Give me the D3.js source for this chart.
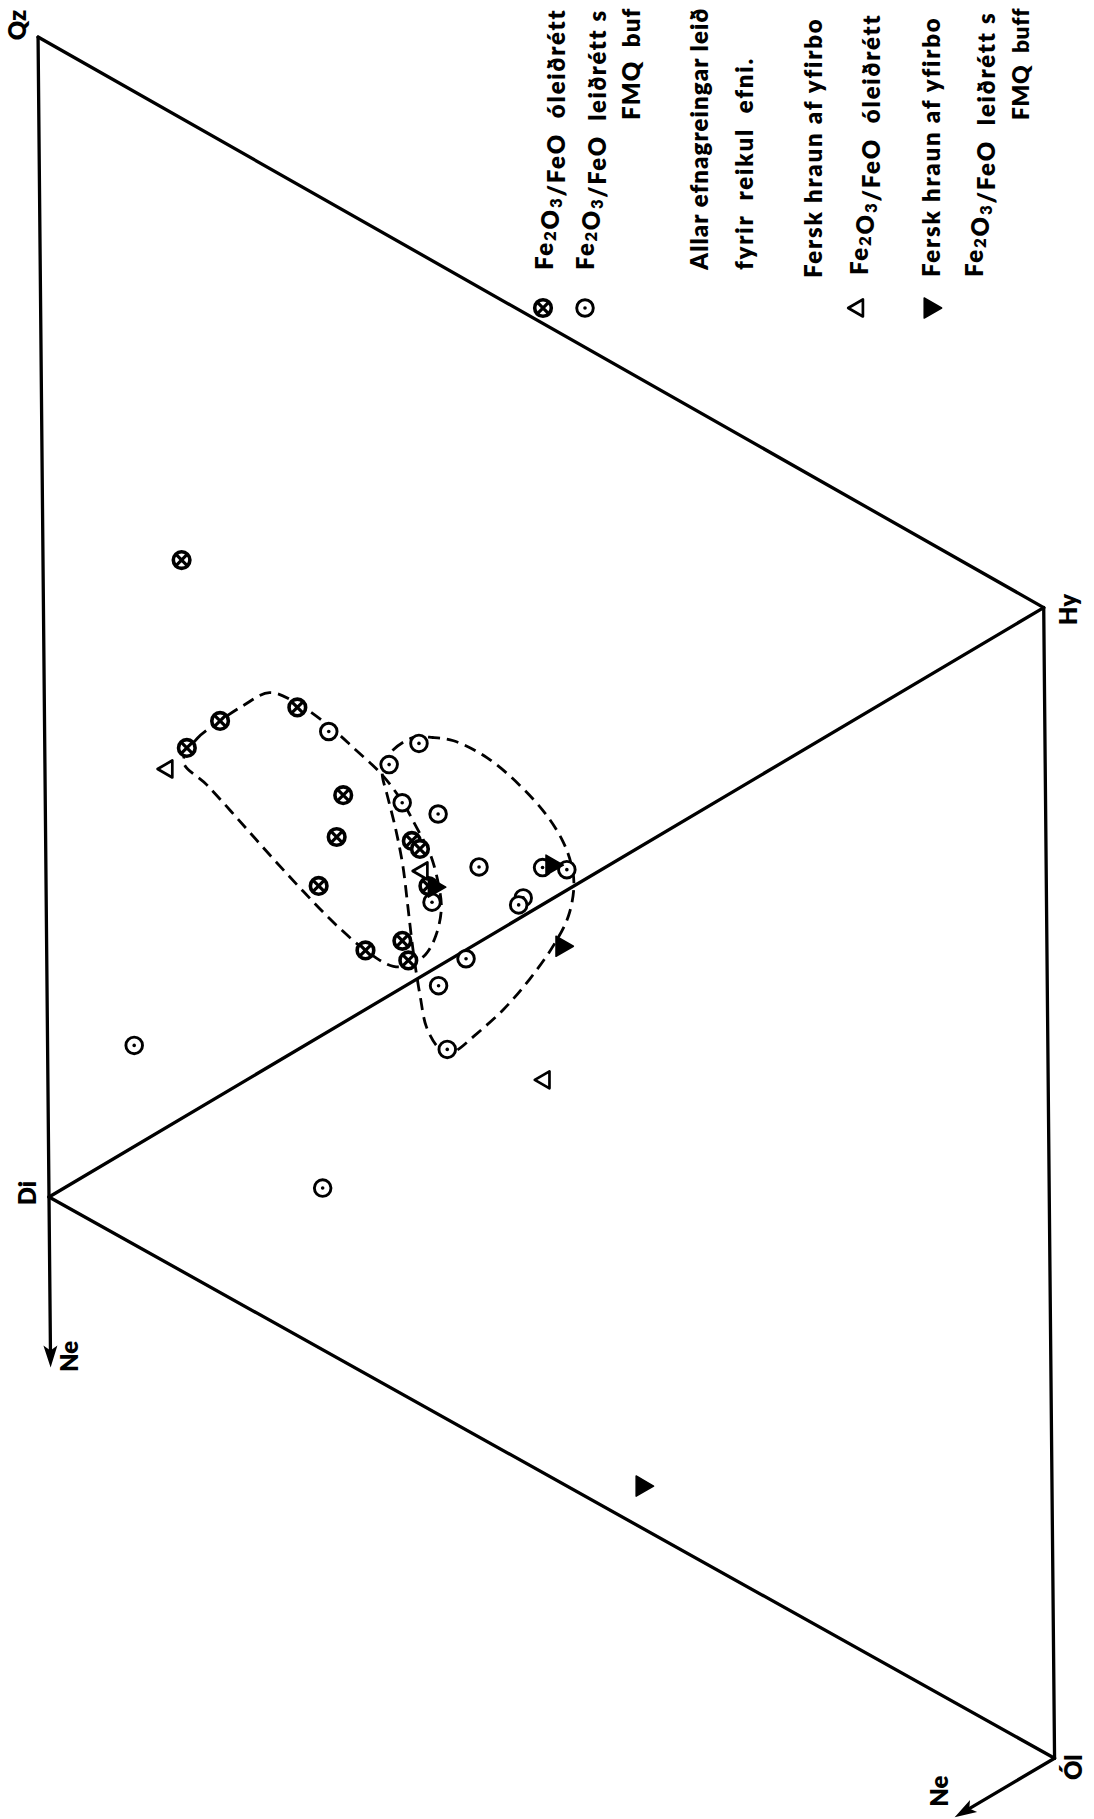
<!DOCTYPE html>
<html><head><meta charset="utf-8">
<script src="https://cdn.jsdelivr.net/npm/d3@7"></script>
<style>
body{margin:0;background:#fff}
svg{display:block;background:#fff}
text{font-family:Lato,"Open Sans",sans-serif;font-weight:800;fill:#000}
</style>
</head><body>
<svg id="chart" width="1094" height="1819"></svg>
<script>
// ---- DATA (diagram units: Di=(0,0), Qz=(0,100), Hy=(86.6,50), Ól=(86.6,-49)) ----
const apexNames = ["Qz", "Di", "Hy", "Ól"];
const apexPos = [[0, 100], [0, 0], [86.6, 50], [86.6, -49.2]];
const edgeList = [[0, 1], [0, 2], [1, 2], [1, 3], [2, 3]];
const neArrows = [[[0, 0], [0, -14.7]], [[86.6, -49.2], [77.9, -54.2]]];
const neLabels = ["Ne", "Ne"];

// Fe2O3/FeO óleiðrétt (crossed circles)
const uncorrected = [[12.3,38.6],[15.2,40.9],[21.9,42.0],[25.8,34.4],[25.2,30.8],[23.6,26.6],
  [27.6,21.0],[30.8,21.8],[31.3,20.1],[31.7,30.4],[32.4,29.7],[33.1,26.5],[12.0,54.8]];
// Fe2O3/FeO leiðrétt (dotted circles)
const corrected = [[24.6,39.9],[29.8,37.0],[32.4,38.8],[30.9,33.7],[34.0,32.7],[37.5,28.1],
  [43.0,28.0],[45.1,27.8],[41.3,25.4],[40.9,24.8],[33.4,25.1],[36.3,20.2],[33.9,17.9],
  [34.6,12.4],[7.5,13.0],[23.7,0.55]];
// Fersk hraun, óleiðrétt (open triangles)
const freshUncorrected = [[10.6,36.8],[32.6,27.8],[43.0,9.7]];
// Fersk hraun, leiðrétt (filled triangles)
const freshCorrected = [[43.8,28.2],[44.6,21.2],[33.6,26.4],[51.1,-25.4]];

// dashed field outlines
const fieldA = [[12.0,37.4],[13.2,39.4],[14.9,40.7],[17.2,42.2],[19.5,43.3],[21.8,42.4],[24.6,40.4],
  [26.7,38.5],[29.2,36.1],[30.9,33.8],[32.1,31.6],[33.3,29.2],[34.0,26.5],[34.2,24.5],[33.7,22.2],
  [32.8,20.6],[31.4,19.7],[30.0,19.6],[28.0,20.7],[25.1,23.2],[22.3,26.1],[19.4,29.3],[16.6,32.5],[14.0,35.4]];
const fieldB = [[29.3,37.0],[30.2,38.3],[31.9,39.3],[33.6,39.3],[35.4,39.0],[38.3,37.5],[41.1,35.1],
  [43.4,32.5],[44.8,30.2],[45.5,28.2],[45.7,26.4],[45.2,23.8],[43.9,21.3],[41.8,18.4],[39.5,15.8],
  [36.9,13.5],[35.4,12.3],[34.5,12.0],[33.7,12.7],[32.8,14.4],[32.3,17.0],[31.9,19.6],[31.6,22.0],
  [31.3,24.8],[30.9,28.3],[30.3,31.5],[29.6,34.4],[29.2,36.1]];

// legend lines (as far as they are visible on the page)
const legendLines = [
  "Fe_2O_3/FeO  óleiðrétt",
  "Fe_2O_3/FeO  leiðrétt s",
  "FMQ  buf",
  "Allar efnagreingar leið",
  "fyrir  reikul  efni.",
  "Fersk hraun af yfirbo",
  "Fe_2O_3/FeO  óleiðrétt",
  "Fersk hraun af yfirbo",
  "Fe_2O_3/FeO  leiðrétt s",
  "FMQ  buff"
];
const legendSymbols = ["cross", "dot", null, null, null, null, "open", "filled", null, null];

// ---- LAYOUT ----
const svg = d3.select("#chart");
const theta = -0.54 * Math.PI / 180;
const origin = [49, 1197];
const sx = d3.scaleLinear().domain([0, 100]).range([0, 1155]);
const sy = d3.scaleLinear().domain([0, 100]).range([0, -1160]);
function proj(p) {
  const a = sx(p[0]), b = sy(p[1]);
  return [origin[0] + a * Math.cos(theta) - b * Math.sin(theta),
          origin[1] + a * Math.sin(theta) + b * Math.cos(theta)];
}

// frame edges
const gEdges = svg.append("g").attr("stroke", "#000").attr("stroke-width", 3.3)
  .attr("stroke-linecap", "round").attr("fill", "none");
edgeList.forEach(e => {
  const p = proj(apexPos[e[0]]), q = proj(apexPos[e[1]]);
  gEdges.append("line").attr("x1", p[0]).attr("y1", p[1]).attr("x2", q[0]).attr("y2", q[1]);
});

// Ne arrows
neArrows.forEach((ar, i) => {
  const p = proj(ar[0]), q = proj(ar[1]);
  const len = Math.hypot(q[0] - p[0], q[1] - p[1]);
  const ux = (q[0] - p[0]) / len, uy = (q[1] - p[1]) / len;
  const L = 22, W = 7;
  const bx = q[0] - ux * L, by = q[1] - uy * L;
  gEdges.append("line").attr("x1", p[0]).attr("y1", p[1]).attr("x2", bx + ux * 4).attr("y2", by + uy * 4);
  svg.append("path")
    .attr("d", `M${q[0]},${q[1]}L${bx - uy * W},${by + ux * W}L${bx + ux * 5},${by + uy * 5}L${bx + uy * W},${by - ux * W}Z`)
    .attr("fill", "#000");
});

// dashed outlines
const lineGen = d3.line().x(d => proj(d)[0]).y(d => proj(d)[1]).curve(d3.curveCatmullRomClosed.alpha(0.5));
[fieldA, fieldB].forEach(f => {
  svg.append("path").attr("d", lineGen(f)).attr("fill", "none").attr("stroke", "#000")
    .attr("stroke-width", 2.8).attr("stroke-dasharray", "12,7");
});

// marker drawing
function drawSymbol(g, type, x, y) {
  if (type === "dot") {
    g.append("circle").attr("cx", x).attr("cy", y).attr("r", 8.3).attr("fill", "#fff")
      .attr("stroke", "#000").attr("stroke-width", 2.9);
    g.append("circle").attr("cx", x).attr("cy", y).attr("r", 1.8).attr("fill", "#000");
  } else if (type === "cross") {
    g.append("circle").attr("cx", x).attr("cy", y).attr("r", 8.3).attr("fill", "#fff")
      .attr("stroke", "#000").attr("stroke-width", 3.6);
    const k = 5.8;
    g.append("path").attr("d", `M${x - k},${y - k}L${x + k},${y + k}M${x + k},${y - k}L${x - k},${y + k}`)
      .attr("stroke", "#000").attr("stroke-width", 3.2);
  } else if (type === "open") {
    g.append("path").attr("d", d3.symbol(d3.symbolTriangle, 125)())
      .attr("transform", `translate(${x},${y}) rotate(-90)`)
      .attr("fill", "#fff").attr("stroke", "#000").attr("stroke-width", 2.7).attr("stroke-linejoin", "round");
  } else if (type === "filled") {
    g.append("path").attr("d", d3.symbol(d3.symbolTriangle, 175)())
      .attr("transform", `translate(${x},${y}) rotate(90)`)
      .attr("fill", "#000").attr("stroke", "#000").attr("stroke-width", 1.5).attr("stroke-linejoin", "round");
  }
}

const gPts = svg.append("g");
[[uncorrected, "cross"], [corrected, "dot"], [freshUncorrected, "open"], [freshCorrected, "filled"]]
  .forEach(([arr, type]) => arr.forEach(d => { const p = proj(d); drawSymbol(gPts, type, p[0], p[1]); }));

// apex labels
const apexOffsets = [[-22, -12], [-23, -4], [24, 2], [18, 9]];
apexNames.forEach((n, i) => {
  const p = proj(apexPos[i]);
  svg.append("text").attr("transform", `translate(${p[0] + apexOffsets[i][0]},${p[1] + apexOffsets[i][1]}) rotate(-90)`)
    .attr("text-anchor", "middle").attr("dominant-baseline", "central")
    .attr("font-size", 24).text(n);
});
const neOffsets = [[18, -11], [-16, -26]];
neArrows.forEach((ar, i) => {
  const q = proj(ar[1]);
  svg.append("text").attr("transform", `translate(${q[0] + neOffsets[i][0]},${q[1] + neOffsets[i][1]}) rotate(-90)`)
    .attr("text-anchor", "middle").attr("dominant-baseline", "central")
    .attr("font-size", 24).text(neLabels[i]);
});

// legend
const legX = [543, 585, 630, 698, 743, 812, 858, 930, 973, 1020];
const legY = [270, 270, 120, 270, 270, 278, 275, 277, 277, 120];
function buildLegendText(t, line, fs, ls) {
  t.selectAll("tspan").remove();
  t.attr("font-size", fs).attr("letter-spacing", ls);
  line.split(/(_\d)/).forEach(part => {
    if (!part) return;
    if (part[0] === "_") {
      t.append("tspan").attr("font-size", fs * 0.7).attr("dy", fs * 0.25).text(part.slice(1));
      t.append("tspan").attr("dy", -fs * 0.25).text("");
    } else {
      t.append("tspan").text(part);
    }
  });
}
legendLines.forEach((line, i) => {
  const t = svg.append("text")
    .attr("transform", `translate(${legX[i]},${legY[i]}) rotate(-90)`)
    .attr("dominant-baseline", "central").style("white-space", "pre");
  let fs = 24, ls = 1.8;
  buildLegendText(t, line, fs, ls);
  // keep each line inside the page: the reference lines run up to the top edge
  const avail = legY[i] - 7;
  let len = t.node().getComputedTextLength();
  if (len > avail) {
    // first tighten the letter spacing, then shrink the font if still needed
    ls = Math.max(0.6, ls - (len - avail) / Math.max(1, line.length - 1));
    buildLegendText(t, line, fs, ls);
    for (let k = 0; k < 3; k++) {
      len = t.node().getComputedTextLength();
      if (len <= avail) break;
      fs *= avail / len * 0.99;
      buildLegendText(t, line, fs, ls);
    }
  }
  if (legendSymbols[i]) drawSymbol(svg, legendSymbols[i], legX[i], 308);
});
</script>
</body></html>
